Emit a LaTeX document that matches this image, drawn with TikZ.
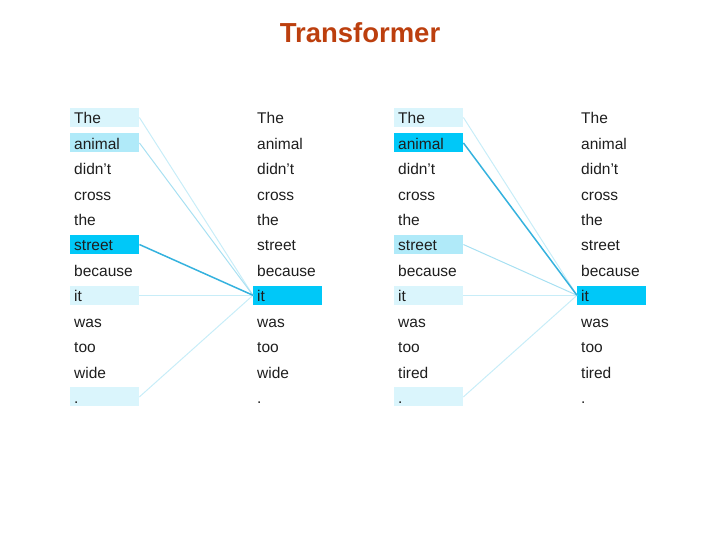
\documentclass[tikz,border=0pt]{standalone}
\usepackage{fontspec}
\setmainfont{Liberation Sans}
\definecolor{strongc}{HTML}{00C8F8}
\definecolor{medc}{HTML}{B0EAF9}
\definecolor{lightc}{HTML}{DAF5FC}
\definecolor{strongl}{HTML}{35B2DE}
\definecolor{medl}{HTML}{A8E0F2}
\definecolor{lightl}{HTML}{C8EDF8}
\definecolor{titlec}{HTML}{BC3F0E}
\definecolor{wordc}{HTML}{1E1E1E}
\begin{document}
\begin{tikzpicture}[x=1pt,y=-1pt,
  word/.style={anchor=west, text width=61pt, inner xsep=4pt, inner ysep=0pt,
    minimum height=19pt, align=left, font=\fontsize{15.5}{16}\selectfont,
    text=wordc, text height=13pt, text depth=0pt},
  weak/.style={draw=lightl, line width=1pt},
  mid/.style={draw=medl, line width=1pt},
  strong/.style={draw=strongl, line width=1.5pt}]
\useasboundingbox (0,0) rectangle (720,540);
\node[font=\fontsize{27.5}{30}\selectfont\bfseries, text=titlec] (title) at (360,33) {Transformer};
% panel 1 left
\foreach \w/\f [count=\i] in {The/lightc, animal/medc, didn’t/none, cross/none, the/none, street/strongc, because/none, it/lightc, was/none, too/none, wide/none, ./lightc}
  \node[word, fill=\f] (a\i) at (70, {117.5+25.4*(\i-1)}) {\w};
% panel 1 right
\foreach \w/\f [count=\i] in {The/none, animal/none, didn’t/none, cross/none, the/none, street/none, because/none, it/strongc, was/none, too/none, wide/none, ./none}
  \node[word, fill=\f] (b\i) at (253, {117.5+25.4*(\i-1)}) {\w};
% panel 2 left
\foreach \w/\f [count=\i] in {The/lightc, animal/strongc, didn’t/none, cross/none, the/none, street/medc, because/none, it/lightc, was/none, too/none, tired/none, ./lightc}
  \node[word, fill=\f] (c\i) at (394, {117.5+25.4*(\i-1)}) {\w};
% panel 2 right
\foreach \w/\f [count=\i] in {The/none, animal/none, didn’t/none, cross/none, the/none, street/none, because/none, it/strongc, was/none, too/none, tired/none, ./none}
  \node[word, fill=\f] (d\i) at (577, {117.5+25.4*(\i-1)}) {\w};
% connectors panel 1
\draw[weak] (a1.east) -- (b8.west);
\draw[mid] (a2.east) -- (b8.west);
\draw[weak] (a8.east) -- (b8.west);
\draw[weak] (a12.east) -- (b8.west);
\draw[strong] (a6.east) -- (b8.west);
% connectors panel 2
\draw[weak] (c1.east) -- (d8.west);
\draw[mid] (c6.east) -- (d8.west);
\draw[weak] (c8.east) -- (d8.west);
\draw[weak] (c12.east) -- (d8.west);
\draw[strong] (c2.east) -- (d8.west);
\end{tikzpicture}
\end{document}
